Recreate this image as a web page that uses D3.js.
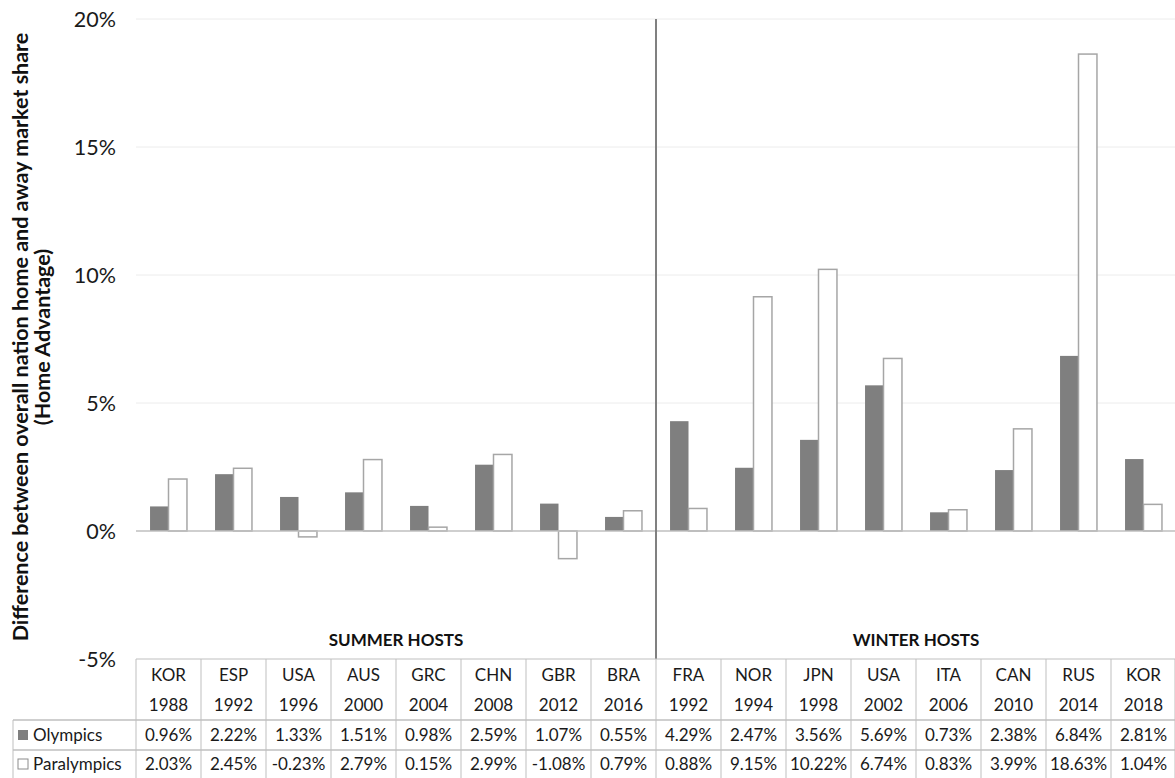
<!DOCTYPE html>
<html>
<head>
<meta charset="utf-8">
<script src="https://cdn.jsdelivr.net/npm/d3@7"></script>
<style>
  body { margin: 0; background: #fff; }
  svg { font-family: Lato, "Open Sans", sans-serif; }
</style>
</head>
<body>
<div id="chart-area"></div>
<script>
// data (table below the bars)
var countries = ["KOR", "ESP", "USA", "AUS", "GRC", "CHN", "GBR", "BRA",
                 "FRA", "NOR", "JPN", "USA", "ITA", "CAN", "RUS", "KOR"];
var years = ["1988", "1992", "1996", "2000", "2004", "2008", "2012", "2016",
             "1992", "1994", "1998", "2002", "2006", "2010", "2014", "2018"];
var olympics = [0.96, 2.22, 1.33, 1.51, 0.98, 2.59, 1.07, 0.55,
                4.29, 2.47, 3.56, 5.69, 0.73, 2.38, 6.84, 2.81];
var paralympics = [2.03, 2.45, -0.23, 2.79, 0.15, 2.99, -1.08, 0.79,
                   0.88, 9.15, 10.22, 6.74, 0.83, 3.99, 18.63, 1.04];
var seriesNames = ["Olympics", "Paralympics"];
var groups = ["SUMMER HOSTS", "WINTER HOSTS"];
var yTicks = [-5, 0, 5, 10, 15, 20];

var width = 1175, height = 778;
var plotLeft = 136, plotRight = 1176, plotTop = 19, plotBottom = 659;

var svg = d3.select("#chart-area").append("svg")
    .attr("width", width)
    .attr("height", height);

var idx = d3.range(countries.length);

var x0 = d3.scaleBand()
    .domain(idx)
    .range([plotLeft, plotRight]);

var x1 = d3.scaleBand()
    .domain(seriesNames)
    .range([0, x0.bandwidth()])
    .paddingOuter(0.76);

var y = d3.scaleLinear()
    .domain([-5, 20])
    .range([plotBottom, plotTop]);

// gridlines
svg.append("g").selectAll("line")
    .data(yTicks.filter(function (d) { return d > 0; }))
    .enter().append("line")
    .attr("x1", plotLeft).attr("x2", plotRight)
    .attr("y1", function (d) { return y(d); })
    .attr("y2", function (d) { return y(d); })
    .attr("stroke", "#ececec")
    .attr("stroke-width", 1);

// y tick labels
svg.append("g").selectAll("text")
    .data(yTicks)
    .enter().append("text")
    .attr("x", 116)
    .attr("y", function (d) { return y(d); })
    .attr("dy", "0.35em")
    .attr("text-anchor", "end")
    .style("font-size", "21.5px")
    .style("fill", "#1a1a1a")
    .text(function (d) { return d + "%"; });

// bars
var bars = svg.append("g");
var rows = [olympics, paralympics];
seriesNames.forEach(function (name, s) {
    bars.selectAll(".bar-" + s)
        .data(idx)
        .enter().append("rect")
        .attr("class", "bar-" + s)
        .attr("x", function (i) { return x0(i) + x1(name); })
        .attr("width", x1.bandwidth())
        .attr("y", function (i) { return y(Math.max(0, rows[s][i])); })
        .attr("height", function (i) { return Math.abs(y(rows[s][i]) - y(0)); })
        .attr("fill", s == 0 ? "#7f7f7f" : "#ffffff")
        .attr("stroke", s == 0 ? "none" : "#a6a6a6")
        .attr("stroke-width", 1.5);
});

// zero line
svg.append("line")
    .attr("x1", plotLeft).attr("x2", plotRight)
    .attr("y1", y(0)).attr("y2", y(0))
    .attr("stroke", "#bfbfbf")
    .attr("stroke-width", 1.5);

// summer / winter divider
var splitX = x0(8);
svg.append("line")
    .attr("x1", splitX).attr("x2", splitX)
    .attr("y1", plotTop).attr("y2", plotBottom)
    .attr("stroke", "#808080")
    .attr("stroke-width", 2);

// group labels
svg.append("g").selectAll("text")
    .data(groups)
    .enter().append("text")
    .attr("x", function (d, i) { return i == 0 ? (plotLeft + splitX) / 2 : (splitX + plotRight) / 2; })
    .attr("y", 646)
    .attr("text-anchor", "middle")
    .style("font-size", "17px")
    .style("font-weight", "bold")
    .style("fill", "#111")
    .text(function (d) { return d; });

// y axis title
var title = svg.append("text")
    .attr("transform", "translate(20,337) rotate(-90)")
    .attr("text-anchor", "middle")
    .style("font-size", "21.5px")
    .style("font-weight", "bold")
    .style("fill", "#111");
title.append("tspan").attr("x", 0).attr("dy", "0.35em")
    .text("Difference between overall nation home and away market share");
title.append("tspan").attr("x", 0).attr("dy", "1.05em")
    .text("(Home Advantage)");

// data table
var table = svg.append("g");
var lineColor = "#bfbfbf";
var rowY = [659, 690, 720, 750, 779];

table.append("line")
    .attr("x1", plotLeft).attr("x2", plotRight)
    .attr("y1", rowY[0]).attr("y2", rowY[0])
    .attr("stroke", lineColor);
[rowY[2], rowY[3]].forEach(function (yy) {
    table.append("line")
        .attr("x1", 13).attr("x2", plotRight)
        .attr("y1", yy).attr("y2", yy)
        .attr("stroke", lineColor).attr("stroke-width", 1.5);
});
table.append("line")
    .attr("x1", 13).attr("x2", 13)
    .attr("y1", rowY[2]).attr("y2", rowY[4])
    .attr("stroke", lineColor);
table.selectAll(".vline")
    .data(idx.concat([16]))
    .enter().append("line")
    .attr("x1", function (i) { return i < 16 ? x0(i) : plotRight - 1; })
    .attr("x2", function (i) { return i < 16 ? x0(i) : plotRight - 1; })
    .attr("y1", rowY[0]).attr("y2", rowY[4])
    .attr("stroke", lineColor);

var cellText = function (arr, yy, fmt) {
    table.append("g").selectAll("text")
        .data(arr)
        .enter().append("text")
        .attr("x", function (d, i) { return x0(i) + x0.bandwidth() / 2; })
        .attr("y", yy)
        .attr("dy", "0.35em")
        .attr("text-anchor", "middle")
        .style("font-size", "17px")
        .style("fill", "#1a1a1a")
        .text(fmt);
};
cellText(countries, 675, function (d) { return d; });
cellText(years, 705, function (d) { return d; });
cellText(olympics, 735, function (d) { return d.toFixed(2) + "%"; });
cellText(paralympics, 764, function (d) { return d.toFixed(2) + "%"; });

// legend keys in the table
var legendY = [735, 764];
seriesNames.forEach(function (name, s) {
    table.append("rect")
        .attr("x", 18).attr("y", legendY[s] - 5)
        .attr("width", 10).attr("height", 10)
        .attr("fill", s == 0 ? "#7f7f7f" : "#fff")
        .attr("stroke", s == 0 ? "none" : "#8c8c8c");
    table.append("text")
        .attr("x", 33).attr("y", legendY[s])
        .attr("dy", "0.35em")
        .style("font-size", "17px")
        .style("fill", "#1a1a1a")
        .text(name);
});
</script>
</body>
</html>
